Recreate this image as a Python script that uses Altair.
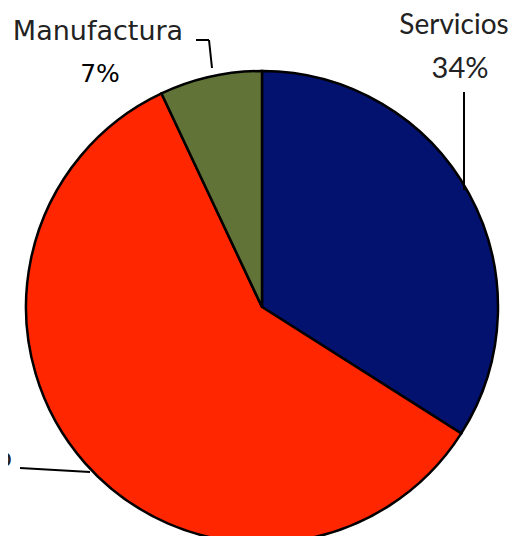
import altair as alt
import pandas as pd

# --- data ---
sectors = ["Servicios", "Comercio", "Manufactura"]
shares = [34, 59, 7]
slice_colors = ["#03116F", "#FF2600", "#617336"]

# annotation layout (label text comes from the data above)
label_x = [446, 4, 90]
label_y = [26, 459, 32]
label_align = ["center", "right", "center"]
pct_x = [452, -56, 92]
pct_y = [70, 500, 74]

leader_x = [456, 12, 204, 201]
leader_y = [84, 460, 60, 32]
leader_x2 = [456, 82, 201, 188]
leader_y2 = [182, 464, 32, 32]

W, H = 506, 528
CX, CY, R = 254, 299, 236

pie_df = pd.DataFrame({"sector": sectors, "share": shares, "order": list(range(len(sectors)))})

pie = alt.Chart(pie_df).mark_arc(radius=R, stroke="black", strokeWidth=2.5).encode(
    theta=alt.Theta("share:Q", stack=True),
    color=alt.Color("sector:N", scale=alt.Scale(domain=sectors, range=slice_colors), legend=None),
    order=alt.Order("order:Q"),
    x=alt.value(CX),
    y=alt.value(CY),
)

lab_df = pd.DataFrame({
    "sector": sectors,
    "pct": [f"{s}%" for s in shares],
    "lx": label_x, "ly": label_y, "al": label_align,
    "px": pct_x, "py": pct_y,
})

def name_layer(font, size, row, align):
    sub = lab_df[lab_df["sector"] == row]
    return alt.Chart(sub).mark_text(font=font, fontSize=size, color="#222222",
                                    baseline="alphabetic", align=align).encode(
        x=alt.X("lx:Q", scale=None), y=alt.Y("ly:Q", scale=None), text="sector:N")

def pct_layer(font, size, row, color="#222222"):
    sub = lab_df[lab_df["sector"] == row]
    return alt.Chart(sub).mark_text(font=font, fontSize=size, color=color,
                                    baseline="alphabetic", align="center").encode(
        x=alt.X("px:Q", scale=None), y=alt.Y("py:Q", scale=None), text="pct:N")

serv_name = name_layer("Lato", 28, "Servicios", "center")
serv_pct = pct_layer("Lato", 29, "Servicios")
com_name = name_layer("Lato", 29, "Comercio", "right")
man_name = name_layer("DejaVu Sans", 27, "Manufactura", "center")
man_pct = pct_layer("DejaVu Sans", 25, "Manufactura", color="#000000")

lead_df = pd.DataFrame({"x": leader_x, "y": leader_y, "x2": leader_x2, "y2": leader_y2})
leaders = alt.Chart(lead_df).mark_rule(color="black", strokeWidth=2).encode(
    x=alt.X("x:Q", scale=None), y=alt.Y("y:Q", scale=None),
    x2="x2:Q", y2="y2:Q")

chart = alt.layer(pie, leaders, serv_name, serv_pct, com_name, man_name, man_pct).properties(
    width=W, height=H, padding=0, autosize=alt.AutoSizeParams(type="none")
).configure_view(stroke=None)

chart.save("out.html", embed_options={"renderer": "svg", "actions": False})
